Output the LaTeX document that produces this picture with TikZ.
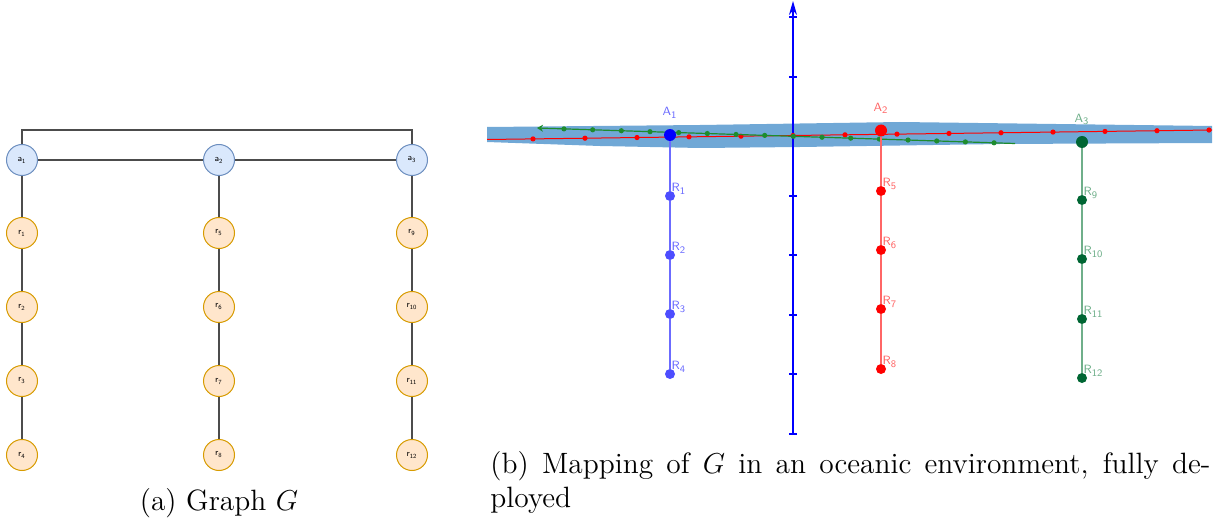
\documentclass[tikz,border=0pt]{standalone}
\usepackage{tikz}
\usetikzlibrary{arrows.meta,calc,positioning}
\definecolor{DioBlueFill}{HTML}{DAE8FC}
\definecolor{DioBlueLine}{HTML}{6C8EBF}
\definecolor{DioOrangeFill}{HTML}{FFE6CC}
\definecolor{DioOrangeLine}{HTML}{D79B00}
\definecolor{Sea}{RGB}{112,168,214}
\definecolor{GeoBlue}{HTML}{0000FF}
\definecolor{GeoBlueDot}{HTML}{4D4DFF}
\definecolor{GeoBlueLight}{HTML}{6B6BFF}
\definecolor{GeoRed}{HTML}{FF0000}
\definecolor{GeoRedLight}{HTML}{FF6666}
\definecolor{GeoGreen}{HTML}{006633}
\definecolor{GeoGreenLine}{HTML}{1E8C2E}
\definecolor{GeoGreenLight}{HTML}{6FAF8A}

\begin{document}
\begin{tikzpicture}[x=0.5pt, y=-0.5pt, >=Stealth,
    anode/.style={circle, draw=DioBlueLine, fill=DioBlueFill, line width=0.5pt,
        minimum size=15.5pt, inner sep=0pt, font=\fontsize{4.5}{5}\sffamily},
    rnode/.style={circle, draw=DioOrangeLine, fill=DioOrangeFill, line width=0.5pt,
        minimum size=15.5pt, inner sep=0pt, font=\fontsize{4.5}{5}\sffamily},
    edge/.style={draw=black!70, line width=0.6pt},
    dot/.style={circle, fill=#1, inner sep=0pt, minimum size=5pt},
    bigdot/.style={circle, fill=#1, inner sep=0pt, minimum size=6pt},
    lbl/.style={font=\fontsize{6}{7}\sffamily, inner sep=0.5pt},
    caption/.style={font=\fontsize{14.7}{17}\selectfont, inner sep=0pt}]

    \useasboundingbox (0,0) rectangle (1222,524);

    % ---------------- (a) Graph G ----------------
    \foreach \x [count=\c] in {22,219,412}
        \node[anode] (a\c) at (\x,160) {a\textsubscript{\c}};
    \foreach \x [count=\c] in {22,219,412}
        \foreach \y [count=\k] in {233,307,381,455} {
            \pgfmathtruncatemacro{\n}{4*(\c-1)+\k}
            \node[rnode] (r\n) at (\x,\y) {r\textsubscript{\n}};
        }

    % edges
    \coordinate (roof) at (219,130);
    \draw[edge] (a1.north) |- (roof) -| (a3.north);
    \draw[edge] (a1) -- (a2) -- (a3);
    \draw[edge] (a1) -- (r1) -- (r2) -- (r3) -- (r4);
    \draw[edge] (a2) -- (r5) -- (r6) -- (r7) -- (r8);
    \draw[edge] (a3) -- (r9) -- (r10) -- (r11) -- (r12);

    \node[caption, anchor=base] (capa) at (219,510) {(a) Graph $G$};

    % ---------------- (b) oceanic mapping ----------------
    % sea surface
    \fill[Sea] (487,127) -- (700,125) -- (900,122) -- (1212,126) -- (1212,143)
        -- (1000,144) -- (800,147) -- (700,148) -- (600,146) -- (487,142) -- cycle;

    % vertical axis
    \coordinate (axbot) at (793,435);
    \coordinate (axtop) at (793,1);
    \draw[GeoBlue, line width=0.8pt, -{Stealth[length=7pt,width=4pt]}] (axbot) -- (axtop);
    \foreach \y in {17,77,136,196,255,315,374,434}
        \draw[GeoBlue, line width=0.8pt] (789,\y) -- (797,\y);

    % red surface line
    \coordinate (redW) at (487,139.5);
    \coordinate (redE) at (1212,130);
    \draw[GeoRed, line width=0.5pt] (redW) -- (redE);
    \foreach \i in {0,...,13}
        \fill[GeoRed] ($(redW)!{(46+52*\i)/725}!(redE)$) circle (2.6);

    % green surface line
    \coordinate (grnW) at (537,128);
    \coordinate (grnE) at (1015,143.5);
    \draw[GeoGreenLine, line width=0.6pt, {Stealth[length=3pt,width=3.5pt]}-] (grnW) -- (grnE);
    \foreach \i in {0,...,15}
        \fill[GeoGreenLine] ($(grnW)!{(27+28.67*\i)/478}!(grnE)$) circle (2.6);

    % anchors
    \node[bigdot=GeoBlue, label={[lbl, text=GeoBlueLight, label distance=4.5pt]90:A\textsubscript{1}}] (A1) at (670,135) {};
    \node[bigdot=GeoRed, label={[lbl, text=GeoRedLight, label distance=4.5pt]90:A\textsubscript{2}}] (A2) at (881,130.5) {};
    \node[bigdot=GeoGreen, label={[lbl, text=GeoGreenLight, label distance=4.5pt]90:A\textsubscript{3}}] (A3) at (1082,142) {};

    % receivers
    \foreach \y [count=\k] in {196,255,314,374}
        \node[dot=GeoBlueDot, label={[lbl, text=GeoBlueLight, label distance=-2.5pt]50:R\textsubscript{\k}}] (R\k) at (670,\y) {};
    \foreach \y [count=\k from 5] in {191,250,309,369}
        \node[dot=GeoRed, label={[lbl, text=GeoRedLight, label distance=-2.5pt]50:R\textsubscript{\k}}] (R\k) at (881,\y) {};
    \foreach \y [count=\k from 9] in {200,259,319,378}
        \node[dot=GeoGreen, label={[lbl, text=GeoGreenLight, label distance=-2.5pt]50:R\textsubscript{\k}}] (R\k) at (1082,\y) {};

    % cables
    \draw[GeoBlueLight, line width=0.6pt] (A1) -- (R1) -- (R2) -- (R3) -- (R4);
    \draw[GeoRedLight, line width=0.6pt] (A2) -- (R5) -- (R6) -- (R7) -- (R8);
    \draw[GeoGreenLight, line width=0.6pt] (A3) -- (R9) -- (R10) -- (R11) -- (R12);

    \node[caption, anchor=north west, align=left] (capb) at (490,451)
        {\makebox[360pt][s]{(b) Mapping of $G$ in an oceanic environment, fully de-}\\ployed};

\end{tikzpicture}
\end{document}
